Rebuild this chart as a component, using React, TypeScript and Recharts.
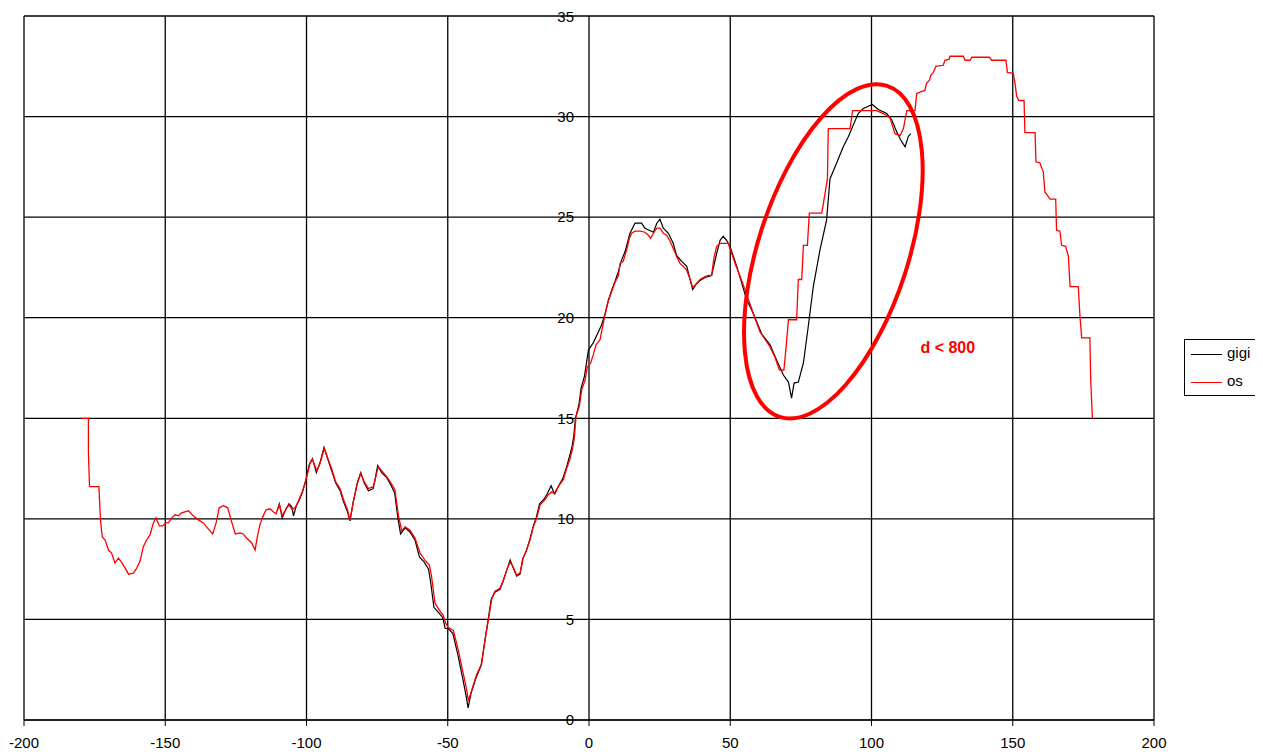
import React from 'react';
import { LineChart, Line, XAxis, YAxis, CartesianGrid, ReferenceDot } from 'recharts';

// os (red) trace
const osX = [
  -179.6, -177.2, -177.2, -176.8, -173.5, -172.9, -172.3, -171.3, -170.1, -169, -167.8, -166.6, -165.5, -164.2, -163,
  -161.3, -160.1, -158.9, -157.8, -156.6, -155.4, -154.2, -153.3, -152.1, -150.9, -149.7, -148.9, -147.7, -146.5, -145.4,
  -144.2, -141.8, -140.1, -138.3, -136.5, -134.8, -133.2, -132, -130.9, -129.4, -127.9, -126.5, -125.2, -123.5, -122.4,
  -121.2, -119.4, -118.2, -117.4, -116.5, -115.5, -114.3, -112.9, -111.8, -110.8, -109.6, -108.6, -107.4, -106.2, -105,
  -103.8, -102.7, -101.5, -100.3, -98.8, -97.9, -96.4, -95.2, -93.7, -92.3, -91.1, -89.7, -88.1, -87, -85.5,
  -84.6, -83.4, -82, -80.8, -79.6, -78.1, -76.4, -75.8, -74.6, -73.4, -71.6, -70.2, -68.7, -67.5, -66.3,
  -65.1, -63.4, -61.6, -59.8, -58.1, -56.5, -55.7, -54.5, -52.7, -51.6, -50.7, -49.8, -48, -46.3, -44.5,
  -43.3, -42.7, -41.5, -39.8, -38, -36.8, -35.6, -34.4, -33.3, -31.5, -30.3, -28.9, -27.9, -26.8, -25.6,
  -24.4, -23.3, -22.1, -20.9, -19.7, -18.5, -17.3, -15.6, -14.4, -13.2, -12, -10.9, -9.1, -7.9, -6.7,
  -5.8, -5.2, -4.6, -3.4, -2.6, -1.4, -0.6, 0.6, 1.5, 2.5, 3.9, 4.8, 5.7, 6.8, 8,
  9.2, 10.4, 11, 12.1, 13.3, 14.3, 15.1, 16.3, 18.1, 19.8, 21, 21.8, 22.8, 24, 25.1,
  26.3, 27.5, 28.7, 29.8, 31, 32.2, 33.4, 34.6, 35.8, 36.7, 38.1, 39.3, 41.1, 42.2, 43.4,
  44.2, 45.2, 46.4, 49.3, 51.7, 53.5, 55.2, 58.2, 60.5, 64.1, 65.8, 67.4, 69, 70, 70.6,
  73.5, 74.1, 75.3, 75.9, 77.3, 78, 82.4, 84.4, 84.7, 92.4, 93.3, 101.8, 104.2, 106.5, 108.3,
  110.1, 111.3, 112.5, 115.4, 116, 117.8, 118.9, 119.5, 120.5, 121, 121.9, 122.8, 125.4, 126, 127.5,
  127.8, 132.5, 133.1, 134.9, 135.5, 141.7, 142.5, 147.6, 148.1, 150.2, 150.8, 151.4, 152.2, 154, 154.3,
  157.9, 158.2, 159.6, 160.8, 161.4, 163.2, 165.2, 165.5, 166.7, 167.3, 168.7, 169.7, 170.3, 173.2, 173.8,
  174.4, 177.3, 177.6, 178.2,
];
const osY = [
  15, 15, 13.3, 11.6, 11.6, 9.9, 9.1, 8.95, 8.45, 8.3, 7.8, 8.05, 7.85, 7.55, 7.25,
  7.3, 7.55, 7.9, 8.6, 8.95, 9.2, 9.8, 10.05, 9.65, 9.65, 9.8, 9.8, 10.05, 10.2, 10.15,
  10.3, 10.4, 10.15, 9.95, 9.8, 9.5, 9.25, 9.8, 10.55, 10.65, 10.55, 9.85, 9.25, 9.3, 9.25,
  9.05, 8.8, 8.45, 9.1, 9.7, 10.1, 10.45, 10.5, 10.35, 10.25, 10.7, 10.15, 10.45, 10.7, 10.45,
  10.6, 10.95, 11.35, 11.85, 12.75, 12.95, 12.4, 12.75, 13.5, 12.95, 12.5, 11.85, 11.5, 11, 10.45,
  9.95, 10.85, 11.75, 12.25, 11.85, 11.5, 11.6, 11.9, 12.6, 12.4, 12.1, 11.8, 11.45, 10.2, 9.4,
  9.6, 9.45, 9.05, 8.3, 7.95, 7.7, 7.1, 5.8, 5.4, 5.2, 4.8, 4.6, 4.45, 3.5, 2.3,
  1.5, 0.95, 1.5, 2.25, 2.8, 4, 5, 6.05, 6.4, 6.55, 6.95, 7.55, 7.85, 7.6, 7.2,
  7.3, 8.05, 8.45, 8.95, 9.6, 10.05, 10.7, 10.95, 11.2, 11.35, 11.25, 11.6, 11.95, 12.5, 13,
  13.5, 14, 15.1, 15.6, 16.4, 16.9, 17.55, 17.75, 18.15, 18.65, 18.9, 19.55, 20.15, 20.8, 21.3,
  21.75, 22.1, 22.7, 22.8, 23.35, 23.95, 24.2, 24.3, 24.3, 24.25, 24.1, 23.95, 24.2, 24.45, 24.45,
  24.2, 24.1, 23.8, 23.45, 23.05, 22.7, 22.55, 22.35, 21.9, 21.5, 21.7, 21.9, 22.05, 22.1, 22.1,
  22.95, 23.55, 23.7, 23.7, 22.7, 22.05, 21.4, 20.2, 19.3, 18.55, 18.05, 17.4, 17.4, 18.9, 19.9,
  19.9, 21.9, 21.9, 23.6, 23.6, 25.2, 25.2, 26.9, 29.4, 29.4, 30.3, 30.3, 30.15, 29.95, 29.15,
  29.05, 29.4, 30.3, 30.3, 31.15, 31.25, 31.3, 31.65, 31.8, 32.05, 32.2, 32.5, 32.55, 32.8, 32.85,
  33, 33, 32.8, 32.8, 32.95, 32.95, 32.8, 32.8, 32.2, 32.15, 31.65, 31, 30.8, 30.8, 29.2,
  29.2, 27.75, 27.7, 27.25, 26.25, 25.9, 25.9, 24.35, 24.3, 23.6, 23.55, 23.05, 21.55, 21.55, 20.05,
  19, 19, 16.9, 15,
];

// gigi (black) trace
const gigiX = [
  -110.4, -109.6, -108.6, -107.4, -106.2, -105.2, -104.6, -103.6, -102.7, -101.5, -100.3, -99, -97.9, -96.5, -95.2,
  -93.8, -92.3, -91.1, -89.7, -88.1, -87, -85.5, -84.6, -83.4, -82, -80.8, -79.6, -78.1, -76.4, -75.8,
  -74.8, -73.4, -71.6, -70.2, -68.8, -67.6, -66.7, -65.1, -63.4, -61.6, -60, -58.3, -56.8, -56, -54.9,
  -53, -51.8, -50.9, -49.8, -48.2, -46.5, -44.6, -43.5, -42.8, -41.8, -40, -38.2, -37, -35.8, -34.6,
  -33.3, -31.5, -30.4, -29, -27.9, -26.8, -25.6, -24.4, -23.5, -22.2, -21, -19.8, -18.6, -17.5, -15.8,
  -14.6, -13.4, -12.3, -11.1, -9.3, -8, -6.9, -6, -5.4, -4.8, -3.6, -2.8, -1.6, -0.2, 1.5,
  3, 4.5, 5.7, 6.8, 8, 9.2, 10.4, 11.5, 12.8, 14.5, 16.3, 18.6, 19.8, 22.8, 24,
  25.1, 26.3, 28.1, 29.8, 31, 32.8, 34.6, 36.7, 38.1, 39.3, 41.1, 43.4, 45.2, 46.4, 47.5,
  48.7, 49.9, 52.3, 55.8, 58.2, 61.1, 64.1, 66.4, 68.8, 70.6, 71.7, 72.6, 74.1, 75.9, 77.6,
  79.4, 81.8, 84.1, 85.3, 87.7, 90, 91.8, 93.6, 95.3, 97.1, 100.3, 102.4, 105.4, 107.1, 108.9,
  110.3, 111.9, 113, 113.9,
];
const gigiY = [
  10.4, 10.75, 10.05, 10.45, 10.75, 10.6, 10.15, 10.65, 10.9, 11.3, 11.9, 12.7, 13, 12.3, 12.8,
  13.55, 12.9, 12.4, 11.8, 11.4, 10.9, 10.35, 9.9, 10.9, 11.8, 12.3, 11.8, 11.4, 11.5, 11.9,
  12.65, 12.3, 12.05, 11.7, 11.3, 10, 9.25, 9.55, 9.35, 8.95, 8.1, 7.85, 7.5, 6.8, 5.6,
  5.3, 5.1, 4.55, 4.55, 4.3, 3.3, 2, 1.2, 0.6, 1.3, 2.1, 2.7, 3.8, 4.9, 6,
  6.35, 6.5, 6.9, 7.5, 7.95, 7.55, 7.15, 7.25, 8, 8.4, 8.95, 9.6, 10.1, 10.75, 11,
  11.3, 11.65, 11.25, 11.55, 12, 12.55, 13.1, 13.6, 14.1, 15, 15.65, 16.5, 17.1, 18.4, 18.75,
  19.2, 19.65, 20.2, 20.85, 21.35, 21.8, 22.3, 22.85, 23.3, 24.2, 24.7, 24.7, 24.45, 24.25, 24.7,
  24.9, 24.45, 24.2, 23.7, 23.1, 22.8, 22.55, 21.4, 21.7, 21.85, 22, 22.1, 23.2, 23.85, 24.05,
  23.85, 23.55, 22.55, 20.9, 20.2, 19.2, 18.65, 17.9, 17.15, 16.8, 16, 16.75, 16.8, 17.75, 19.55,
  21.55, 23.4, 24.85, 26.9, 27.7, 28.5, 29, 29.6, 30.15, 30.4, 30.6, 30.35, 30.15, 29.85, 29.25,
  28.85, 28.5, 29, 29.15,
];

const xTicks = [-200, -150, -100, -50, 0, 50, 100, 150, 200];
const yTicks = [0, 5, 10, 15, 20, 25, 30, 35];

const osData = osX.map((x, i) => ({ x, y: osY[i] }));
const gigiData = gigiX.map((x, i) => ({ x, y: gigiY[i] }));

const W = 1255;
const H = 748;
const M = { top: 8, right: 109, bottom: 0, left: 16 };
const X0 = M.left + (W - M.left - M.right) / 2; // pixel of x = 0
const FONT = '"Liberation Sans", Arial, sans-serif';

const YTick = ({ y, payload }: any) => (
  <text x={X0 - 15} y={y} dy="0.35em" textAnchor="end" fontSize={15} fill="#000" fontFamily={FONT}>
    {payload.value}
  </text>
);

const LegendBox = () => (
  <div
    style={{
      position: 'absolute', left: 1176, top: 331, width: 71, height: 55,
      border: '1px solid #000', background: '#fff', fontFamily: FONT, fontSize: 15,
    }}
  >
    <div style={{ position: 'absolute', left: 6, top: 14, width: 31, borderTop: '1.5px solid #000' }} />
    <div style={{ position: 'absolute', left: 42, top: 4, lineHeight: '18px' }}>gigi</div>
    <div style={{ position: 'absolute', left: 6, top: 42, width: 31, borderTop: '1.5px solid #f00' }} />
    <div style={{ position: 'absolute', left: 42, top: 32, lineHeight: '18px' }}>os</div>
  </div>
);

export default function App() {
  return (
    <div style={{ position: 'relative', width: W, height: H, background: '#fff', fontFamily: FONT }}>
      <LineChart width={W} height={H} margin={M}>
        <CartesianGrid stroke="#000" strokeWidth={1.3} horizontalValues={yTicks} verticalValues={xTicks} />
        <XAxis
          type="number"
          dataKey="x"
          domain={[-200, 200]}
          ticks={xTicks}
          allowDataOverflow
          height={36}
          stroke="#000"
          tickSize={6}
          tickMargin={11}
          tick={{ fontSize: 15, fill: '#000', fontFamily: FONT }}
        />
        <YAxis
          type="number"
          domain={[0, 35]}
          ticks={yTicks}
          mirror
          axisLine={false}
          tickLine={false}
          tick={<YTick />}
        />
        <Line
          data={gigiData}
          dataKey="y"
          name="gigi"
          type="linear"
          stroke="#000"
          strokeWidth={1.2}
          dot={false}
          isAnimationActive={false}
        />
        <Line
          data={osData}
          dataKey="y"
          name="os"
          type="linear"
          stroke="#ff0000"
          strokeWidth={1.3}
          dot={false}
          isAnimationActive={false}
        />
        <ReferenceDot
          x={86.5}
          y={23.3}
          shape={(p: any) => (
            <ellipse
              cx={p.cx}
              cy={p.cy}
              rx={174}
              ry={75}
              fill="none"
              stroke="#ff0000"
              strokeWidth={4}
              transform={`rotate(-72 ${p.cx} ${p.cy})`}
            />
          )}
        />
        <ReferenceDot
          x={127}
          y={18.5}
          shape={(p: any) => (
            <text x={p.cx} y={p.cy} dy="0.35em" textAnchor="middle" fill="#ff0000" fontWeight="bold" fontSize={16} fontFamily={FONT}>
              d &lt; 800
            </text>
          )}
        />
      </LineChart>
      <LegendBox />
    </div>
  );
}
